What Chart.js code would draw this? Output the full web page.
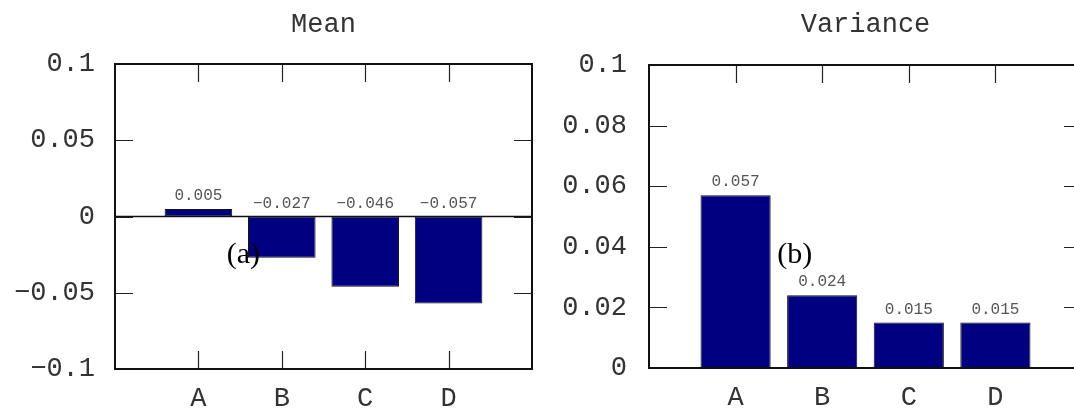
<!DOCTYPE html>
<html>
<head>
<meta charset="utf-8">
<script src="https://cdn.jsdelivr.net/npm/chart.js@4/dist/chart.umd.min.js"></script>
<style>
  html, body { margin: 0; padding: 0; background: #fff; overflow: hidden; width: 1074px; height: 409px; }
  canvas { position: absolute; top: 0; }
  #meanChart { left: 0; }
  #varChart { left: 540px; }
</style>
</head>
<body>
<canvas id="meanChart" width="548" height="409"></canvas>
<canvas id="varChart" width="558" height="409"></canvas>
<script>
// Categories and values for both panels
const categories = ['A', 'B', 'C', 'D'];
const meanValues = [0.005, -0.027, -0.046, -0.057];
const varianceValues = [0.057, 0.024, 0.015, 0.015];

// Value annotations printed above each bar
const meanValueLabels = ['0.005', '\u22120.027', '\u22120.046', '\u22120.057'];
const varianceValueLabels = ['0.057', '0.024', '0.015', '0.015'];

// Y axis ticks
const meanTickValues = [-0.1, -0.05, 0, 0.05, 0.1];
const meanTickLabels = ['\u22120.1', '\u22120.05', '0', '0.05', '0.1'];
const varianceTickValues = [0, 0.02, 0.04, 0.06, 0.08, 0.1];
const varianceTickLabels = ['0', '0.02', '0.04', '0.06', '0.08', '0.1'];

const MONO = '"Liberation Mono", "Courier New", monospace';
const SERIF = '"Liberation Serif", "Times New Roman", serif';
const BAR_FILL = '#000080';
const INK = '#111';

// One empty slot on each side of the four categories
const paddedLabels = ['', ...categories, ''];
const padded = (vals) => [null, ...vals, null];

// Frame, inward tick marks, zero line, value labels, panel tag and title
const gnuFrame = {
  id: 'gnuFrame',
  beforeDatasetsDraw(chart, args, opts) {
    const { ctx, chartArea: a, scales: { x, y } } = chart;
    const len = 18;
    ctx.save();
    ctx.strokeStyle = '#222';
    ctx.lineWidth = 1.2;
    ctx.beginPath();
    y.ticks.forEach(t => {
      const py = Math.round(y.getPixelForValue(t.value)) + 0.5;
      ctx.moveTo(a.left, py); ctx.lineTo(a.left + len, py);
      ctx.moveTo(a.right, py); ctx.lineTo(a.right - len, py);
    });
    paddedLabels.forEach((lab, i) => {
      if (!lab) return;
      const px = Math.round(x.getPixelForValue(i)) + 0.5;
      ctx.moveTo(px, a.top); ctx.lineTo(px, a.top + len);
      ctx.moveTo(px, a.bottom); ctx.lineTo(px, a.bottom - len);
    });
    ctx.stroke();
    ctx.restore();
  },
  afterDatasetsDraw(chart, args, opts) {
    const { ctx, chartArea: a, scales: { x, y } } = chart;
    ctx.save();

    // zero line
    if (opts.zeroLine) {
      const py = y.getPixelForValue(0);
      ctx.strokeStyle = INK;
      ctx.lineWidth = 1.6;
      ctx.beginPath();
      ctx.moveTo(a.left, py); ctx.lineTo(a.right, py);
      ctx.stroke();
    }

    // frame
    ctx.strokeStyle = INK;
    ctx.lineWidth = 2;
    ctx.strokeRect(a.left, a.top, a.right - a.left, a.bottom - a.top);

    // value labels above each bar (or above the zero line for negative bars)
    const meta = chart.getDatasetMeta(0);
    const base = y.getPixelForValue(0);
    ctx.font = '16px ' + MONO;
    ctx.fillStyle = '#555';
    ctx.textAlign = 'center';
    ctx.textBaseline = 'alphabetic';
    meta.data.forEach((bar, i) => {
      const lab = opts.valueLabels[i - 1];
      if (lab === undefined || i === 0) return;
      const top = Math.min(bar.y, base);
      ctx.fillText(lab, bar.x, top - 9);
    });

    // panel tag
    ctx.font = '30px ' + SERIF;
    ctx.fillStyle = '#000';
    ctx.textAlign = 'left';
    ctx.textBaseline = 'middle';
    ctx.fillText(opts.tag, x.getPixelForValue(opts.tagAt[0]), y.getPixelForValue(opts.tagAt[1]));

    // title
    ctx.font = '27px ' + MONO;
    ctx.fillStyle = '#333';
    ctx.textAlign = 'center';
    ctx.textBaseline = 'alphabetic';
    ctx.fillText(opts.title, (a.left + a.right) / 2, 32);

    ctx.restore();
  }
};

function makeChart(id, cfg) {
  return new Chart(document.getElementById(id), {
    type: 'bar',
    data: {
      labels: paddedLabels,
      datasets: [{
        data: padded(cfg.values),
        backgroundColor: BAR_FILL,
        borderColor: '#111',
        borderWidth: 1,
        borderSkipped: false,
        barPercentage: 0.81,
        categoryPercentage: 1.0
      }]
    },
    options: {
      responsive: false,
      animation: false,
      devicePixelRatio: 1,
      layout: { padding: { left: 0, right: 16, top: cfg.padTop, bottom: 0 } },
      plugins: {
        legend: { display: false },
        tooltip: { enabled: false },
        title: { display: false },
        gnuFrame: {
          zeroLine: cfg.zeroLine,
          valueLabels: cfg.valueLabels,
          tag: cfg.tag,
          tagAt: cfg.tagAt,
          title: cfg.title
        }
      },
      scales: {
        x: {
          type: 'category',
          offset: false,
          grid: { display: false, drawTicks: false, offset: false },
          border: { display: false },
          ticks: {
            autoSkip: false,
            maxRotation: 0,
            padding: 14,
            color: '#333',
            font: { family: MONO, size: 27 }
          },
          afterFit(s) { s.height = cfg.xHeight; }
        },
        y: {
          type: 'linear',
          min: cfg.tickValues[0],
          max: cfg.tickValues[cfg.tickValues.length - 1],
          grid: { display: false, drawTicks: false },
          border: { display: false },
          afterBuildTicks(s) { s.ticks = cfg.tickValues.map(v => ({ value: v })); },
          ticks: {
            padding: cfg.yPad,
            color: '#333',
            font: { family: MONO, size: 27 },
            callback: (v, i) => cfg.tickLabels[i]
          },
          afterFit(s) { s.width = cfg.yWidth; }
        }
      }
    },
    plugins: [gnuFrame]
  });
}

makeChart('meanChart', {
  values: meanValues,
  valueLabels: meanValueLabels,
  tickValues: meanTickValues,
  tickLabels: meanTickLabels,
  title: 'Mean',
  tag: '(a)',
  tagAt: [1.34, -0.025],
  zeroLine: true,
  padTop: 64,
  xHeight: 40,
  yWidth: 115,
  yPad: 20
});

makeChart('varChart', {
  values: varianceValues,
  valueLabels: varianceValueLabels,
  tickValues: varianceTickValues,
  tickLabels: varianceTickLabels,
  title: 'Variance',
  tag: '(b)',
  tagAt: [1.48, 0.0374],
  zeroLine: false,
  padTop: 65,
  xHeight: 41,
  yWidth: 109,
  yPad: 22
});
</script>
</body>
</html>
